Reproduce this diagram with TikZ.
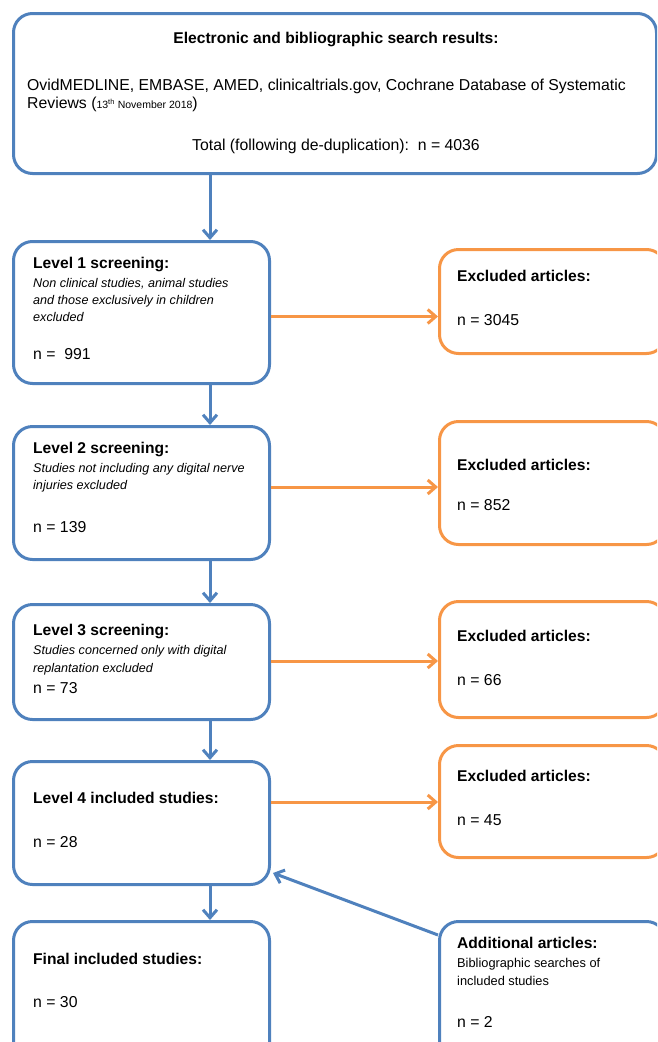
\documentclass[tikz,border=0pt]{standalone}
\usepackage{fontspec}
\setmainfont{Liberation Sans}
\usetikzlibrary{arrows.meta,calc}
\definecolor{bblue}{HTML}{4F81BD}
\definecolor{borange}{HTML}{F79646}
\tikzset{
  boxbase/.style={draw, line width=3pt, rounded corners=19pt, anchor=north west, inner sep=0pt},
  bbox/.style={boxbase, draw=bblue},
  obox/.style={boxbase, draw=borange},
  txt/.style={anchor=base west, inner sep=0pt, font=\fontsize{15.8}{18}\selectfont},
  ctxt/.style={anchor=base, inner sep=0pt, font=\fontsize{15.8}{18}\selectfont},
  head/.style={txt, font=\fontsize{15.6}{18}\selectfont\bfseries},
  ital/.style={txt, font=\fontsize{12.6}{17}\selectfont\itshape},
  small/.style={txt, font=\fontsize{12.8}{18}\selectfont},
  barrow/.style={draw=bblue, line width=3pt, -{Straight Barb[length=8pt,width=14pt,line width=3pt]}},
  oarrow/.style={draw=borange, line width=3pt, -{Straight Barb[length=8pt,width=14pt,line width=3pt]}},
}
\begin{document}
\begin{tikzpicture}[x=1pt,y=-1pt]
\useasboundingbox (0,0) rectangle (657,1042);
\clip (0,0) rectangle (657,1042);
% boxes
\node[bbox, minimum width=643, minimum height=160] (top) at (12,12) {};
\node[bbox, minimum width=256, minimum height=142] (l1) at (12,240) {};
\node[obox, minimum width=226, minimum height=104] (e1) at (438,248) {};
\node[bbox, minimum width=256, minimum height=133] (l2) at (12,425) {};
\node[obox, minimum width=226, minimum height=123] (e2) at (438,420) {};
\node[bbox, minimum width=256, minimum height=115] (l3) at (12,603) {};
\node[obox, minimum width=226, minimum height=116] (e3) at (438,600) {};
\node[bbox, minimum width=256, minimum height=123] (l4) at (12,760) {};
\node[obox, minimum width=226, minimum height=112] (e4) at (438,744) {};
\node[bbox, minimum width=256, minimum height=140] (fin) at (12,920) {};
\node[bbox, minimum width=226, minimum height=140] (add) at (438,920) {};
% texts
\node[ctxt, font=\fontsize{15.6}{18}\selectfont\bfseries] (t1) at (336,43) {Electronic and bibliographic search results:};
\node[txt] (t2) at (27,90) {OvidMEDLINE, EMBASE, AMED, clinicaltrials.gov, Cochrane Database of Systematic};
\node[txt] (t3) at (27,108) {Reviews ({\fontsize{10.5}{12}\selectfont 13\textsuperscript{th} November 2018})};
\node[ctxt] (t4) at (336,150) {Total (following de-duplication):\ \ n = 4036};

\node[head] (h1) at (33,268) {Level 1 screening:};
\node[ital] (i1a) at (33,287) {Non clinical studies, animal studies};
\node[ital] (i1b) at (33,304) {and those exclusively in children};
\node[ital] (i1c) at (33,321) {excluded};
\node[txt] (n1) at (33,359) {n =\ \ 991};
\node[head] (he1) at (457,281) {Excluded articles:};
\node[txt] (ne1) at (457,325) {n = 3045};

\node[head] (h2) at (33,453) {Level 2 screening:};
\node[ital] (i2a) at (33,472) {Studies not including any digital nerve};
\node[ital] (i2b) at (33,489) {injuries excluded};
\node[txt] (n2) at (33,532) {n = 139};
\node[head] (he2) at (457,470) {Excluded articles:};
\node[txt] (ne2) at (457,510) {n = 852};

\node[head] (h3) at (33,635) {Level 3 screening:};
\node[ital] (i3a) at (33,654) {Studies concerned only with digital};
\node[ital] (i3b) at (33,672) {replantation excluded};
\node[txt] (n3) at (33,693) {n = 73};
\node[head] (he3) at (457,641) {Excluded articles:};
\node[txt] (ne3) at (457,685) {n = 66};

\node[head] (h4) at (33,803) {Level 4 included studies:};
\node[txt] (n4) at (33,847) {n = 28};
\node[head] (he4) at (457,781) {Excluded articles:};
\node[txt] (ne4) at (457,825) {n = 45};

\node[head] (hf) at (33,964) {Final included studies:};
\node[txt] (nf) at (33,1007) {n = 30};
\node[head] (ha) at (457,948) {Additional articles:};
\node[small] (sa1) at (457,967) {Bibliographic searches of};
\node[small] (sa2) at (457,985) {included studies};
\node[txt] (na) at (457,1027) {n = 2};

% connectors
\coordinate (ax) at (210,0);
\draw[barrow] (top.south -| ax) -- (l1.north -| ax);
\draw[barrow] (l1.south -| ax) -- (l2.north -| ax);
\draw[barrow] (l2.south -| ax) -- (l3.north -| ax);
\draw[barrow] (l3.south -| ax) -- (l4.north -| ax);
\draw[barrow] (l4.south -| ax) -- (fin.north -| ax);

\coordinate (o1) at ([yshift=-4pt]l1.east);
\coordinate (o2) at ([yshift=6pt]l2.east);
\coordinate (o3) at ([yshift=1pt]l3.east);
\coordinate (o4) at ([yshift=21pt]l4.east);
\draw[oarrow] (o1) -- (o1 -| e1.west);
\draw[oarrow] (o2) -- (o2 -| e2.west);
\draw[oarrow] (o3) -- (o3 -| e3.west);
\draw[oarrow] (o4) -- (o4 -| e4.west);

\coordinate (as) at ([yshift=-15pt]add.north west);
\coordinate (ae) at ([xshift=2pt,yshift=13pt]l4.south east);
\draw[barrow] (as) -- (ae);
\end{tikzpicture}
\end{document}
